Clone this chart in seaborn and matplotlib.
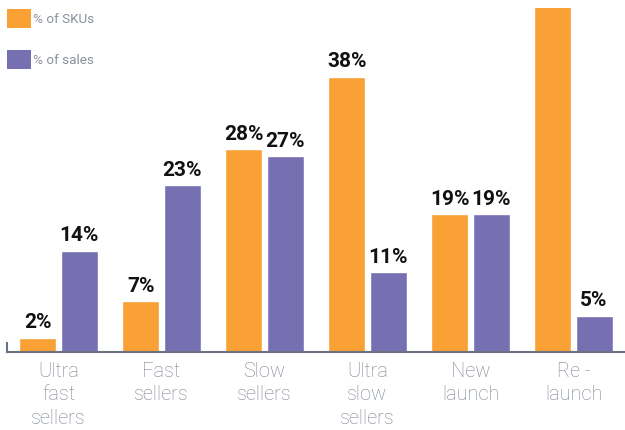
import numpy as np
import pandas as pd
import seaborn as sns
import matplotlib.pyplot as plt
from matplotlib.patches import Patch

categories = ["Ultra\nfast\nsellers", "Fast\nsellers", "Slow\nsellers",
              "Ultra\nslow\nsellers", "New\nlaunch", "Re -\nlaunch"]
sku_pct = [2, 7, 28, 38, 19, 55]
sales_pct = [14, 23, 27, 11, 19, 5]
series = ["% of SKUs", "% of sales"]
colors = ["#f9a135", "#7670b3"]

df = pd.DataFrame({
    "category": categories * 2,
    "value": sku_pct + sales_pct,
    "series": [series[0]] * len(categories) + [series[1]] * len(categories),
})

sns.set_style("white")
plt.rcParams['font.family'] = ['Roboto', 'DejaVu Sans']

fig = plt.figure(figsize=(6.25, 4.3), dpi=100)
ax = fig.add_axes([0.0112, 0.1814, 0.9888, 0.8])

sns.barplot(data=df, x="category", y="value", hue="series", palette=colors,
            width=0.8, gap=0.1, ax=ax, legend=False, saturation=1)

ax.set_ylim(0, 47.5)
ax.set_xlim(-0.5, 5.5)

for cont in ax.containers:
    labels = ax.bar_label(cont, fmt="%d%%", padding=4, fontsize=15,
                          fontweight="semibold", color="#111111")
    for t in labels:
        t.set_clip_on(True)

ax.set_xlabel("")
ax.set_ylabel("")
ax.set_yticks([])
ax.tick_params(axis="x", length=0, pad=7)
for lab in ax.get_xticklabels():
    lab.set_fontsize(14.4)
    lab.set_color("#7b8290")
    lab.set_fontweight("light")
    lab.set_linespacing(1.3)

for s in ["top", "right"]:
    ax.spines[s].set_visible(False)
ax.spines["bottom"].set_color("#6b7280")
ax.spines["bottom"].set_linewidth(1.5)
ax.spines["left"].set_color("#6b7280")
ax.spines["left"].set_linewidth(1.5)
ax.spines["left"].set_bounds(0, 1.2)

handles = [Patch(facecolor=c, edgecolor="none") for c in colors]
fig.legend(handles, series, loc="upper left", bbox_to_anchor=(0.0112, 0.979),
           frameon=False, fontsize=9.7, handlelength=1.78, handleheight=1.78,
           handletextpad=0.15, labelspacing=1.65, borderaxespad=0, borderpad=0,
           labelcolor="#8a909c")

fig.savefig("out.png", dpi=100)
